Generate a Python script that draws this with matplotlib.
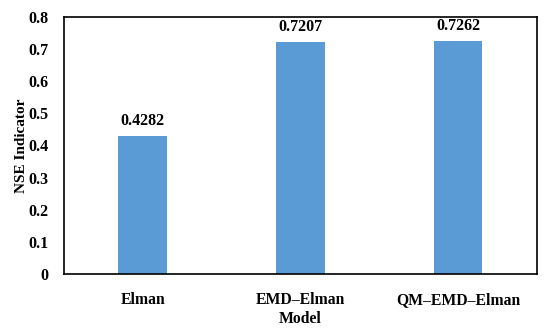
import matplotlib.pyplot as plt
import numpy as np

models = ['Elman', 'EMD\u2013Elman', 'QM\u2013EMD\u2013Elman']
nse = [0.4282, 0.7207, 0.7262]
yticks = [0, 0.1, 0.2, 0.3, 0.4, 0.5, 0.6, 0.7, 0.8]
ytick_labels = ['0', '0.1', '0.2', '0.3', '0.4', '0.5', '0.6', '0.7', '0.8']

plt.rcParams['font.family'] = ['Liberation Serif', 'DejaVu Serif']
plt.rcParams['font.weight'] = 'bold'

fig = plt.figure(figsize=(5.5, 3.31), dpi=100)
ax = fig.add_axes([0.116, 0.172, 0.86, 0.777])
x = np.arange(len(models))
ax.bar(x, nse, width=0.31, color='#5B9BD5')
for xi, v in zip(x, nse):
    ax.text(xi, v + 0.022, '%.4f' % v, ha='center', va='bottom', fontsize=11.5, fontweight='bold')

ax.set_xlim(-0.5, 2.5)
ax.set_ylim(0, 0.8)
ax.set_xticks(x)
ax.set_xticklabels(models, fontsize=11.3, fontweight='bold')
ax.set_yticks(yticks)
ax.set_yticklabels(ytick_labels, fontsize=11.5, fontweight='bold')
ax.tick_params(length=0)
ax.tick_params(axis='y', pad=11)
ax.tick_params(axis='x', pad=13)
for s in ax.spines.values():
    s.set_linewidth(1.2)
ax.set_xlabel('Model', fontsize=11.3, fontweight='bold', labelpad=2)
ax.set_ylabel('NSE Indicator', fontsize=11, fontweight='bold', labelpad=0)

fig.savefig('out.png', dpi=100)
